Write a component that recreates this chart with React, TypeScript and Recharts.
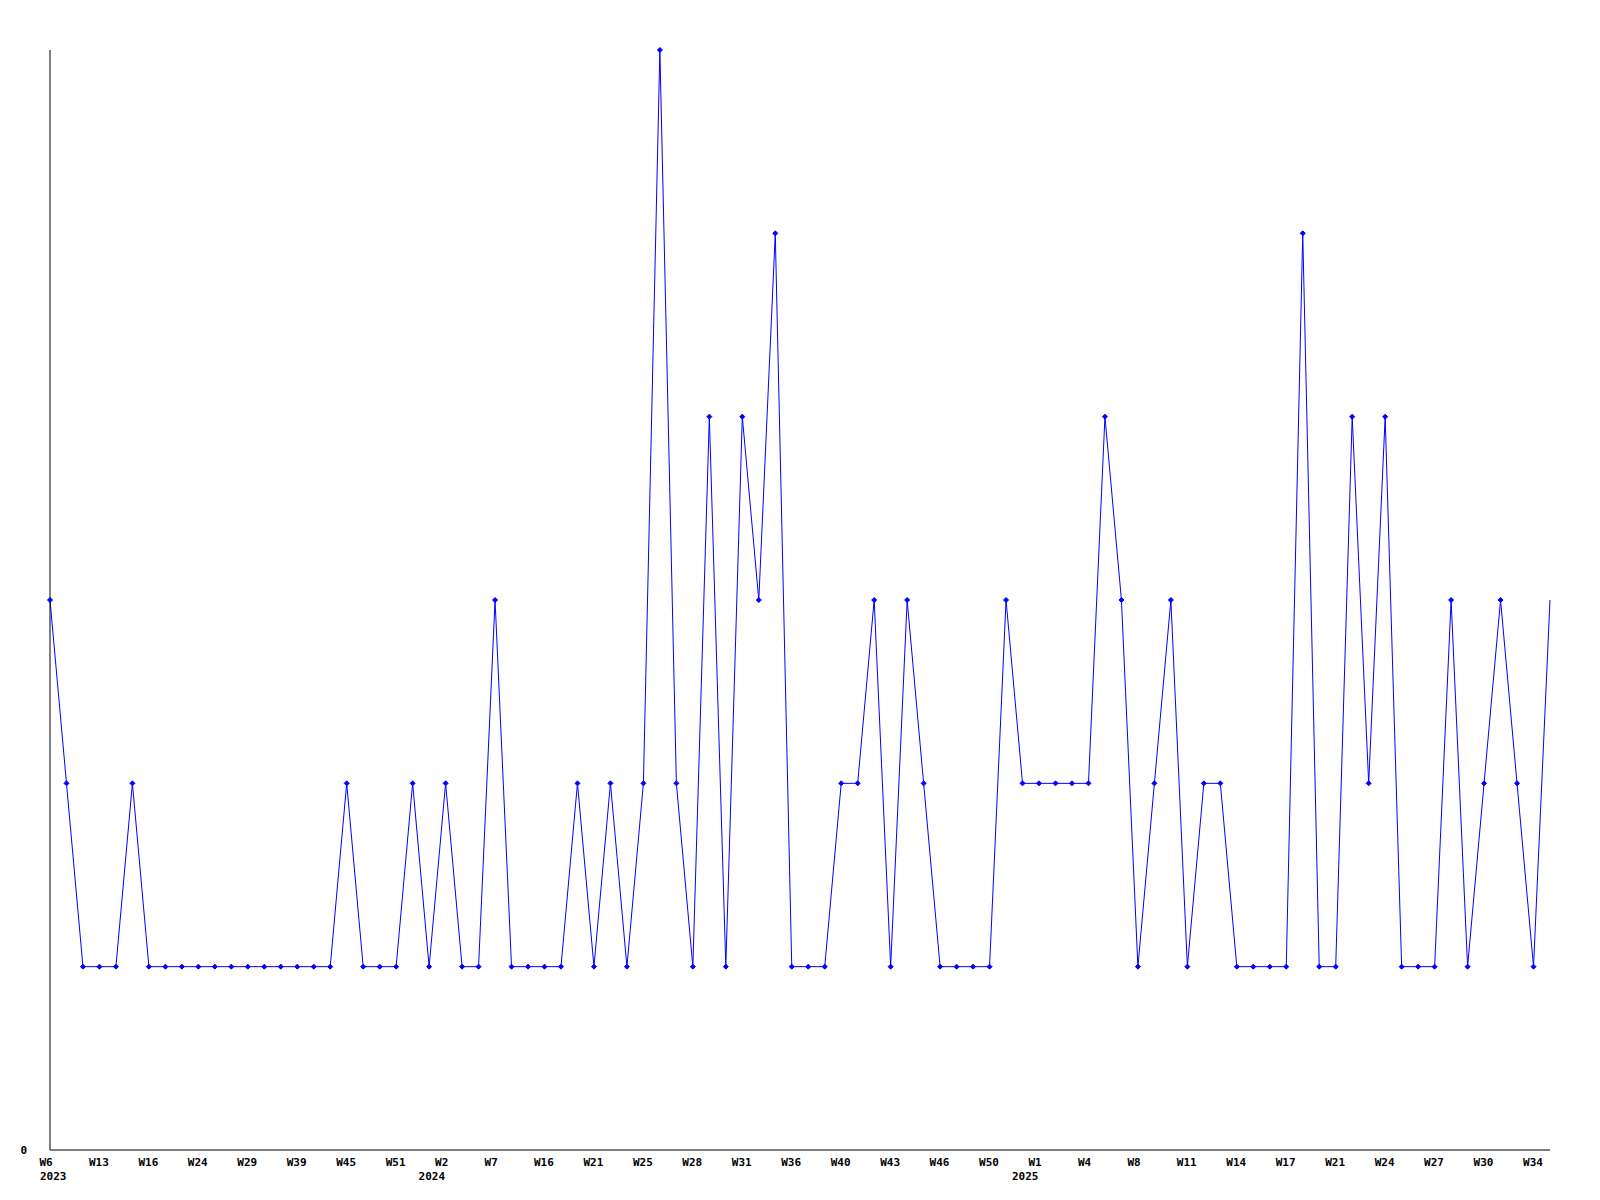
import React from 'react';
import { LineChart, Line, XAxis, YAxis } from 'recharts';

// one point per reported week (weeks without data are skipped)
const counts = [
  3, 2, 1, 1, 1, 2, 1, 1, 1, 1,
  1, 1, 1, 1, 1, 1, 1, 1, 2, 1,
  1, 1, 2, 1, 2, 1, 1, 3, 1, 1,
  1, 1, 2, 1, 2, 1, 2, 6, 2, 1,
  4, 1, 4, 3, 5, 1, 1, 1, 2, 2,
  3, 1, 3, 2, 1, 1, 1, 1, 3, 2,
  2, 2, 2, 2, 4, 3, 1, 2, 3, 1,
  2, 2, 1, 1, 1, 1, 5, 1, 1, 4,
  2, 4, 1, 1, 1, 3, 1, 2, 3, 2,
  1, 3,
];

// label on every third point
const weekLabels = [
  'W6', 'W13', 'W16', 'W24', 'W29', 'W39', 'W45', 'W51', 'W2', 'W7',
  'W16', 'W21', 'W25', 'W28', 'W31', 'W36', 'W40', 'W43', 'W46', 'W50',
  'W1', 'W4', 'W8', 'W11', 'W14', 'W17', 'W21', 'W24', 'W27', 'W30', 'W34',
];
const yearStarts = [0, 24, 60];
const yearLabels = ['2023', '2024', '2025'];

const data = counts.map((v, i) => ({ i, v }));
const tickIdx = weekLabels.map((_, k) => k * 3);

const FONT = '"DejaVu Sans Mono", monospace';

const WeekTick = ({ x, payload }: any) => {
  const idx = payload.value;
  const label = weekLabels[idx / 3];
  const yi = yearStarts.indexOf(idx);
  return (
    <g>
      <text x={x - 10.5} y={1166} textAnchor="start" fontFamily={FONT} fontWeight="bold" fontSize={11} fill="#000">
        {label}
      </text>
      {yi >= 0 && (
        <text x={Math.max(40, x - 27)} y={1180} textAnchor="start" fontFamily={FONT} fontWeight="bold" fontSize={11} fill="#000">
          {yearLabels[yi]}
        </text>
      )}
    </g>
  );
};

const ZeroTick = ({ y, payload }: any) => (
  <text x={27} y={y + 4} textAnchor="end" fontFamily={FONT} fontWeight="bold" fontSize={11} fill="#000">
    {payload.value}
  </text>
);

const Marker = ({ cx, cy, index }: any) => {
  if (index === counts.length - 1) return <g key={index} />;
  return (
    <path
      key={index}
      d={`M${cx - 2.5},${cy} L${cx},${cy - 2.5} L${cx + 2.5},${cy} L${cx},${cy + 2.5} Z`}
      fill="#0000ff"
      stroke="#0000ff"
      strokeWidth={1}
    />
  );
};

const App = () => {
  return (
    <div style={{ position: 'absolute', left: 0, top: 0, width: 1600, height: 1200, background: '#fff' }}>
      <LineChart width={1600} height={1200} data={data} margin={{ top: 50, right: 50, bottom: 0, left: 0 }}>
        <XAxis
          dataKey="i"
          type="number"
          domain={[0, counts.length - 1]}
          ticks={tickIdx}
          interval={0}
          tickLine={false}
          tick={<WeekTick />}
          axisLine={{ stroke: '#000' }}
          height={50}
        />
        <YAxis
          type="number"
          domain={[0, 6]}
          ticks={[0]}
          tickLine={false}
          tick={<ZeroTick />}
          axisLine={{ stroke: '#000' }}
          width={50}
        />
        <Line
          type="linear"
          dataKey="v"
          stroke="#0000ff"
          strokeWidth={1}
          dot={<Marker />}
          activeDot={false}
          isAnimationActive={false}
        />
      </LineChart>
    </div>
  );
};

export default App;
